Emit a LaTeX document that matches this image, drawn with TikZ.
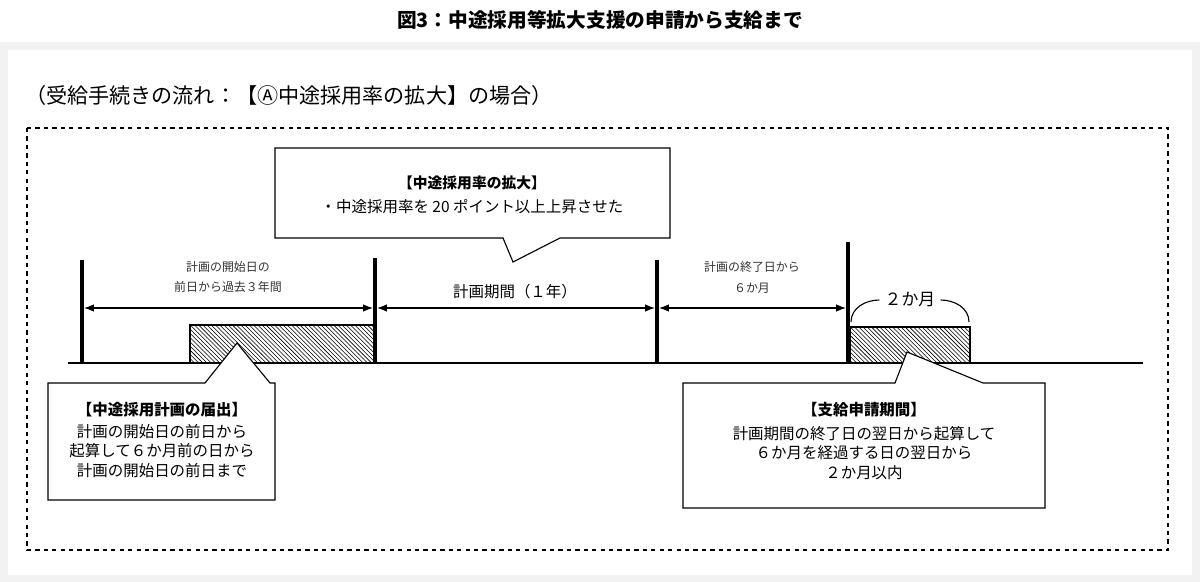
\documentclass[tikz,border=0pt]{standalone}
\usepackage{fontspec}
\setmainfont{Noto Sans CJK JP}
\usetikzlibrary{arrows.meta,patterns}
\begin{document}
\begin{tikzpicture}[
        x=0.025cm, y=-0.025cm,
        line width=0.8pt,
        every node/.style={font=\fontsize{11}{14}\selectfont},
        bar/.style={line width=2.2pt},
        span/.style={{Latex[length=7pt]}-{Latex[length=7pt]}},
        hatch/.style={draw, pattern=north west lines},
        small/.style={font=\fontsize{8.5}{10}\selectfont, text=black!80}
    ]
    % Background and frame
    \useasboundingbox (0,0) rectangle (1200,582);
    \fill[gray!10] (0,42) rectangle (1200,582);
    \fill[white] (8,50) rectangle (1192,575);
    \draw[dashed, line width=0.9pt] (27,128) rectangle (1168,550);
    
    % Titles
    \node[font=\fontsize{14}{16}\selectfont\bfseries] (title) at (600,20) {図3：中途採用等拡大支援の申請から支給まで};
    \node[anchor=west, font=\fontsize{15}{17}\selectfont] (sub) at (20,95) {（受給手続きの流れ：【Ⓐ中途採用率の拡大】の場合）};
    
    % Time axis and marks
    \coordinate (a0) at (68,363);
    \coordinate (a1) at (1143,363);
    \draw (a0) -- (a1);
    \coordinate (m1) at (82,363);
    \coordinate (m2) at (375,363);
    \coordinate (m3) at (657,363);
    \coordinate (m4) at (848,363);
    \draw[bar] (m1) -- ++(0,-103);
    \draw[bar] (m2) -- ++(0,-105);
    \draw[bar] (m3) -- ++(0,-103);
    \draw[bar] (m4) -- ++(0,-121);
    
    % Spans
    \coordinate (s1) at (84,308);
    \coordinate (s2l) at (373,308);
    \coordinate (s2r) at (377,308);
    \coordinate (s3l) at (655,308);
    \coordinate (s3r) at (659,308);
    \coordinate (s4) at (846,308);
    \draw[span] (s1) -- (s2l);
    \draw[span] (s2r) -- (s3l);
    \draw[span] (s3r) -- (s4);
    \node[small] (past1) at (228,267) {計画の開始日の};
    \node[small] (past2) at (228,287) {前日から過去３年間};
    \node[font=\fontsize{11}{13}\selectfont] (plan) at (515,292) {計画期間（１年）};
    \node[small] (after1) at (752,267) {計画の終了日から};
    \node[small] (after2) at (752,288) {６か月};
    
    % Hatched periods
    \draw[hatch] (190,325) rectangle (m2);
    \draw[hatch] (850,327) rectangle (970,363);
    \node[font=\fontsize{12}{14}\selectfont] (two) at (910,300) {２か月};
    \draw (851,322) to[out=90, in=180] (two.west);
    \draw (969,322) to[out=90, in=0] (two.east);
    
    % Top callout
    \draw[fill=white] (275,148) -- (670,148) -- (670,238) -- (560,238) -- (513,262)
      -- (503,238) -- (275,238) -- cycle;
    \node[font=\fontsize{10.5}{13}\selectfont\bfseries] (rate) at (472,183) {【中途採用率の拡大】};
    \node (rise) at (472,207) {・中途採用率を 20 ポイント以上上昇させた};
    
    % Bottom left callout
    \draw[fill=white] (48,383) -- (205,383) -- (237,343) -- (270,383) -- (275,383)
      -- (275,500) -- (48,500) -- cycle;
    \node[font=\fontsize{11}{13}\selectfont\bfseries] (sub1) at (162,410) {【中途採用計画の届出】};
    \node[align=center, anchor=north, inner sep=1pt] (sub1t) at (162,422)
      {計画の開始日の前日から\\起算して６か月前の日から\\計画の開始日の前日まで};
    
    % Bottom right callout
    \draw[fill=white] (683,383) -- (895,383) -- (907,352) -- (983,383) -- (1045,383)
      -- (1045,508) -- (683,508) -- cycle;
    \node[font=\fontsize{11}{13}\selectfont\bfseries] (pay) at (864,410) {【支給申請期間】};
    \node[align=center, anchor=north, inner sep=1pt] (payt) at (864,424)
      {計画期間の終了日の翌日から起算して\\６か月を経過する日の翌日から\\２か月以内};
\end{tikzpicture}
\end{document}
